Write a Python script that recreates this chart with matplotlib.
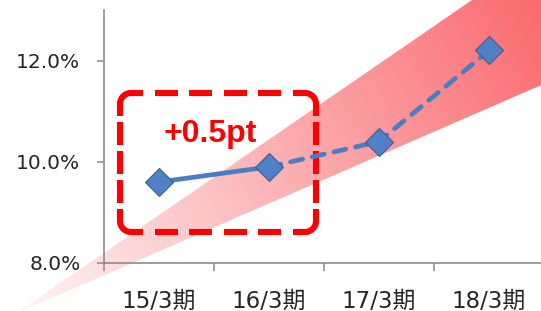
import numpy as np
import matplotlib
matplotlib.use("Agg")
import matplotlib.pyplot as plt
from matplotlib.patches import Polygon
from matplotlib.lines import Line2D

# ---- data ----
categories = ["15/3期", "16/3期", "17/3期", "18/3期"]
values = [9.6, 9.9, 10.4, 12.2]
yticks = [8.0, 10.0, 12.0]
ytick_labels = ["8.0%", "10.0%", "12.0%"]
annotation = "+0.5pt"

W, H = 541, 311
fig = plt.figure(figsize=(W / 100, H / 100), dpi=100)

# ---- background decoration axes in pixel units ----
bg = fig.add_axes([0, 0, 1, 1], zorder=0)
bg.set_xlim(0, W)
bg.set_ylim(H, 0)
bg.axis("off")

# gradient wedge
tip = np.array([15.0, 314.0])
poly_pts = [(15, 314), (472, 0), (W + 5, 0), (W + 5, 83)]
d = np.array([526.0, -294.0])
L = np.linalg.norm(d)
d = d / L
xx, yy = np.meshgrid(np.arange(W) + 0.5, np.arange(H) + 0.5)
t = ((xx - tip[0]) * d[0] + (yy - tip[1]) * d[1]) / L
t = np.clip(t, 0, 1)
img = np.zeros((H, W, 4))
img[..., 0] = 250 / 255
img[..., 1] = 95 / 255
img[..., 2] = 100 / 255
img[..., 3] = 0.06 + 0.86 * t
im = bg.imshow(img, extent=[0, W, H, 0], interpolation="bilinear", zorder=1)
clip = Polygon(poly_pts, closed=True, transform=bg.transData, facecolor="none", edgecolor="none")
bg.add_patch(clip)
im.set_clip_path(clip)

# dashed rounded box (solid rounded corners, dashed sides)
bx0, by0, bx1, by1, r, leg = 120, 93, 316, 232, 11, 12
red = "#ff0000"
lw_box = 4.4
dash_len, gap_len = 23, 10

def arc(cx, cy, a0, a1, n=12):
    a = np.radians(np.linspace(a0, a1, n))
    return cx + r * np.cos(a), cy + r * np.sin(a)

corners = [
    # (corner center, start angle, end angle, leg before, leg after)
    ((bx0 + r, by0 + r), 180, 270),   # top-left
    ((bx1 - r, by0 + r), 270, 360),   # top-right
    ((bx1 - r, by1 - r), 0, 90),      # bottom-right
    ((bx0 + r, by1 - r), 90, 180),    # bottom-left
]
for (cx, cy), a0, a1 in corners:
    ax_, ay_ = arc(cx, cy, a0, a1)
    # leg before (tangent backwards from start), leg after
    s = np.radians(a0)
    e = np.radians(a1)
    # tangent direction at angle a (increasing angle direction in y-down coords)
    sx, sy = ax_[0], ay_[0]
    tx0, ty0 = np.sin(s), -np.cos(s)
    ex, ey = ax_[-1], ay_[-1]
    tx1, ty1 = -np.sin(e), np.cos(e)
    px = np.concatenate([[sx + leg * tx0], ax_, [ex + leg * tx1]])
    py = np.concatenate([[sy + leg * ty0], ay_, [ey + leg * ty1]])
    bg.add_line(Line2D(px, py, color=red, lw=lw_box, solid_capstyle="butt",
                       solid_joinstyle="round", zorder=3))

def dashed_side(p0, p1):
    p0 = np.array(p0, float)
    p1 = np.array(p1, float)
    M = np.linalg.norm(p1 - p0)
    u = (p1 - p0) / M
    n = max(1, int(round((M - gap_len) / (dash_len + gap_len))))
    g = (M - n * dash_len) / (n + 1)
    pos = g
    for _ in range(n):
        a = p0 + u * pos
        b = p0 + u * (pos + dash_len)
        bg.add_line(Line2D([a[0], b[0]], [a[1], b[1]], color=red, lw=lw_box,
                           solid_capstyle="butt", zorder=3))
        pos += dash_len + g

off = r + leg
dashed_side((bx0 + off, by0), (bx1 - off, by0))
dashed_side((bx1, by0 + off), (bx1, by1 - off))
dashed_side((bx1 - off, by1), (bx0 + off, by1))
dashed_side((bx0, by1 - off), (bx0, by0 + off))

bg.text(210, 134, annotation, color=red, fontsize=23, fontweight="bold",
        family=["Liberation Sans", "DejaVu Sans"], ha="center", va="center", zorder=4)

# ---- main chart axes ----
ax = fig.add_axes([104 / W, (H - 263) / H, 440 / W, 253 / H], zorder=1)
ax.patch.set_alpha(0)
x = np.arange(len(categories))
ax.set_xlim(-0.5, len(categories) - 0.5)
ax.set_ylim(8, 13)

line_col = "#4a7ec4"
edge_col = "#3a5f8f"
ax.plot(x[:2], values[:2], color=line_col, lw=3.4, solid_capstyle="round", zorder=3)
ax.plot(x[1:], values[1:], color=line_col, lw=3.4, linestyle=(0, (2.6, 2.1)),
        dash_capstyle="round", zorder=3)
ax.plot(x, values, linestyle="none", marker="D", ms=14, markerfacecolor="#4f81c6",
        markeredgecolor=edge_col, markeredgewidth=0.8, zorder=4)

for s in ["top", "right"]:
    ax.spines[s].set_visible(False)
for s in ["left", "bottom"]:
    ax.spines[s].set_color("#8c8c8c")
    ax.spines[s].set_linewidth(1.2)

ax.set_yticks(yticks)
ax.set_yticklabels(ytick_labels, fontsize=14.5, color="#262626", family="DejaVu Sans")
ax.tick_params(axis="y", direction="out", length=5, width=1.1, color="#8c8c8c", pad=12)

ax.set_xticks(x)
ax.set_xticklabels(categories, fontsize=16.5, color="#262626",
                   family=["DejaVu Sans", "Noto Sans CJK JP"])
ax.set_xticks(np.arange(len(categories)) - 0.5, minor=True)
ax.tick_params(axis="x", which="major", length=0, pad=19)
ax.tick_params(axis="x", which="minor", direction="out", length=6, width=1.1, color="#8c8c8c")

fig.savefig("out.png", dpi=100)
